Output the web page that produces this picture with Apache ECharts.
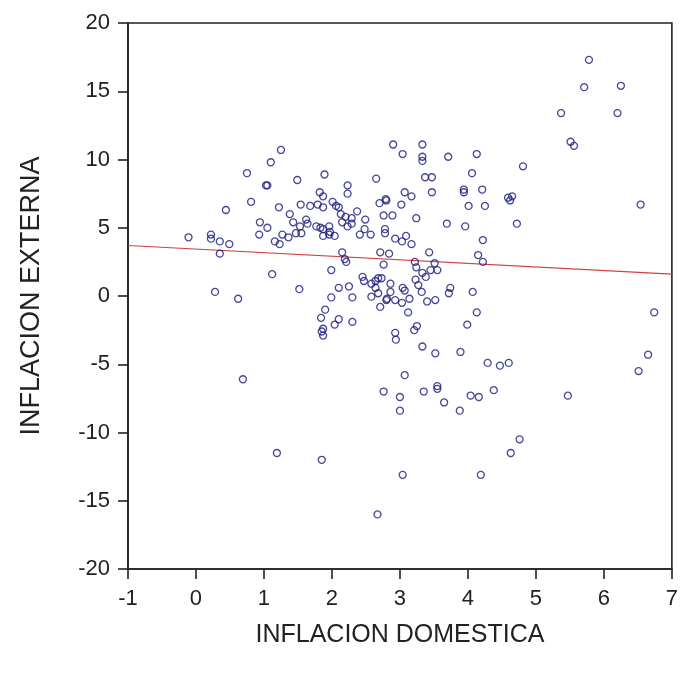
<!DOCTYPE html>
<html>
<head>
<meta charset="utf-8">
<script src="https://cdn.jsdelivr.net/npm/echarts@6/dist/echarts.min.js"></script>
<style>
  html, body { margin: 0; padding: 0; background: #fff; }
  #chart { width: 681px; height: 677px; }
</style>
</head>
<body>
<div id="chart"></div>
<script>
// Domestic inflation (x) values
const domestica = [
  -0.11, 0.22, 0.22, 0.35, 0.49, 0.35, 0.28, 0.62, 0.69, 0.44,
  0.75, 1.10, 1.03, 1.05, 1.25, 0.81, 1.22, 1.12, 1.52, 0.94,
  0.93, 1.05, 1.16, 1.23, 1.27, 1.36, 1.38, 1.43, 1.47, 1.55,
  1.53, 1.62, 1.64, 1.49, 1.54, 1.68, 1.79, 1.87, 1.77, 1.83,
  1.87, 1.96, 1.97, 2.04, 1.87, 1.96, 1.89, 1.82, 1.87, 2.01,
  2.06, 2.10, 2.23, 2.23, 2.13, 2.20, 2.29, 2.37, 2.15, 2.23,
  2.29, 2.49, 2.41, 2.48, 2.57, 2.15, 2.19, 2.21, 1.99, 2.10,
  2.25, 2.30, 1.99, 1.90, 1.84, 1.87, 1.85, 1.87, 2.10, 2.04,
  2.30, 1.19, 1.85, 2.67, 2.65, 2.70, 2.80, 2.76, 2.89, 2.78,
  2.78, 2.93, 2.71, 2.84, 2.76, 2.45, 2.47, 2.58, 2.64, 2.68,
  2.73, 2.68, 2.64, 2.58, 2.71, 2.80, 2.86, 2.86, 2.93, 2.93,
  2.94, 2.76, 3.00, 3.00, 2.90, 3.04, 3.33, 3.33, 3.33, 3.71,
  4.13, 3.37, 3.47, 4.06, 3.07, 3.17, 3.47, 3.94, 3.94, 4.21,
  3.02, 4.01, 4.25, 4.59, 4.62, 4.65, 6.54, 3.24, 3.69, 3.96,
  4.72, 3.03, 3.09, 3.17, 4.22, 3.43, 4.15, 4.22, 3.22, 3.24,
  3.51, 3.55, 3.45, 3.33, 3.38, 3.23, 3.27, 3.32, 3.04, 3.07,
  3.14, 3.03, 2.81, 3.40, 3.52, 3.74, 3.72, 4.07, 3.12, 4.13,
  3.99, 3.25, 3.21, 3.33, 3.52, 3.89, 4.29, 4.47, 4.60, 3.07,
  3.35, 3.55, 3.55, 3.65, 3.88, 4.04, 4.16, 4.38, 5.47, 4.76,
  4.63, 3.04, 4.19, 6.74, 6.65, 6.51, 5.78, 5.71, 6.25, 5.37,
  6.20, 5.51, 5.56, 4.81, 2.79
];
// External inflation (y) values
const externa = [
  4.3, 4.5, 4.2, 4.0, 3.8, 3.1, 0.3, -0.2, -6.1, 6.3,
  9.0, 9.8, 8.1, 8.1, 10.7, 6.9, 6.5, 1.6, 0.5, 5.4,
  4.5, 5.0, 4.0, 3.8, 4.5, 4.3, 6.0, 5.4, 4.6, 4.6,
  5.1, 5.6, 5.3, 8.5, 6.7, 6.6, 6.7, 6.5, 5.1, 5.0,
  4.9, 5.1, 4.7, 4.4, 4.4, 4.5, 8.9, 7.6, 7.3, 6.9,
  6.6, 6.5, 8.1, 7.5, 6.0, 5.8, 5.7, 6.2, 5.4, 5.1,
  5.3, 5.6, 4.5, 4.9, 4.5, 3.2, 2.7, 2.5, 1.9, 0.6,
  0.7, -0.1, -0.1, -1.0, -1.6, -2.4, -2.6, -2.9, -1.7, -2.1,
  -1.9, -11.5, -12.0, -16.0, 8.6, 6.8, 7.0, 5.9, 5.9, 4.9,
  4.6, 4.2, 3.2, 3.1, 2.3, 1.4, 1.1, 0.9, 1.1, 1.3,
  1.3, 0.2, 0.6, -0.05, -0.8, -0.3, 0.9, 0.3, -0.3, -2.7,
  -3.2, -7.0, -7.4, -8.4, 11.1, 10.4, 11.1, 10.2, 9.9, 10.2,
  10.4, 8.7, 8.7, 9.0, 7.6, 7.3, 7.6, 7.8, 7.6, 7.8,
  6.7, 6.6, 6.6, 7.2, 7.0, 7.3, 6.7, 5.7, 5.3, 5.1,
  5.3, 4.0, 4.4, 3.8, 4.1, 3.2, 3.0, 2.5, 2.5, 2.1,
  2.4, 1.9, 1.9, 1.7, 1.4, 1.2, 0.8, 0.3, 0.6, 0.4,
  -0.2, -0.5, -0.2, -0.4, -0.3, 0.6, 0.2, 0.3, -1.2, -1.2,
  -2.1, -2.2, -2.5, -3.7, -4.2, -4.1, -4.9, -5.1, -4.9, -5.8,
  -7.0, -6.6, -6.8, -7.8, -8.4, -7.3, -7.4, -6.9, -7.3, -10.5,
  -11.5, -13.1, -13.1, -1.2, -4.3, -5.5, 17.3, 15.3, 15.4, 13.4,
  13.4, 11.3, 11.0, 9.5, 7.1
];
// Fitted regression line endpoints (x, y)
const fitX = [-1, 7];
const fitY = [3.7, 1.6];
// Axis tick labels
const xTicks = [-1, 0, 1, 2, 3, 4, 5, 6, 7];
const yTicks = [-20, -15, -10, -5, 0, 5, 10, 15, 20];

const points = domestica.map((x, i) => [x, externa[i]]);
const fitLine = fitX.map((x, i) => [x, fitY[i]]);

const FONT = 'Liberation Sans, Arial, sans-serif';
const chart = echarts.init(document.getElementById('chart'), null, { renderer: 'canvas' });
const axisFont = { fontFamily: FONT, fontSize: 22, color: '#222' };
chart.setOption({
  animation: false,
  backgroundColor: '#fff',
  grid: { left: 128, right: 8, top: 23, bottom: 108, show: true, borderColor: '#222', borderWidth: 1.6, backgroundColor: 'transparent' },
  xAxis: {
    type: 'value', min: xTicks[0], max: xTicks[xTicks.length - 1], interval: 1,
    name: 'INFLACION DOMESTICA', nameLocation: 'middle', nameGap: 54,
    nameTextStyle: { fontFamily: FONT, fontSize: 25, color: '#222' },
    axisLine: { onZero: false, lineStyle: { color: '#222', width: 1.6 } },
    axisTick: { show: true, inside: false, length: 10, lineStyle: { color: '#222', width: 1.6 } },
    axisLabel: Object.assign({ margin: 19 }, axisFont),
    splitLine: { show: false }
  },
  yAxis: {
    type: 'value', min: yTicks[0], max: yTicks[yTicks.length - 1], interval: 5,
    name: 'INFLACION EXTERNA', nameLocation: 'middle', nameGap: 83,
    nameTextStyle: { fontFamily: FONT, fontSize: 27, color: '#222' },
    axisLine: { onZero: false, lineStyle: { color: '#222', width: 1.6 } },
    axisTick: { show: true, inside: false, length: 10, lineStyle: { color: '#222', width: 1.6 } },
    axisLabel: Object.assign({ margin: 18 }, axisFont),
    splitLine: { show: false }
  },
  series: [
    {
      type: 'scatter',
      data: points,
      symbol: 'circle',
      symbolSize: 7,
      itemStyle: { color: 'rgba(0,0,0,0)', borderColor: '#1a1a80', borderWidth: 1.3 },
      z: 3
    },
    {
      type: 'line',
      data: fitLine,
      symbol: 'none',
      lineStyle: { color: '#d04040', width: 1.2 },
      z: 2
    }
  ]
});
</script>
</body>
</html>
